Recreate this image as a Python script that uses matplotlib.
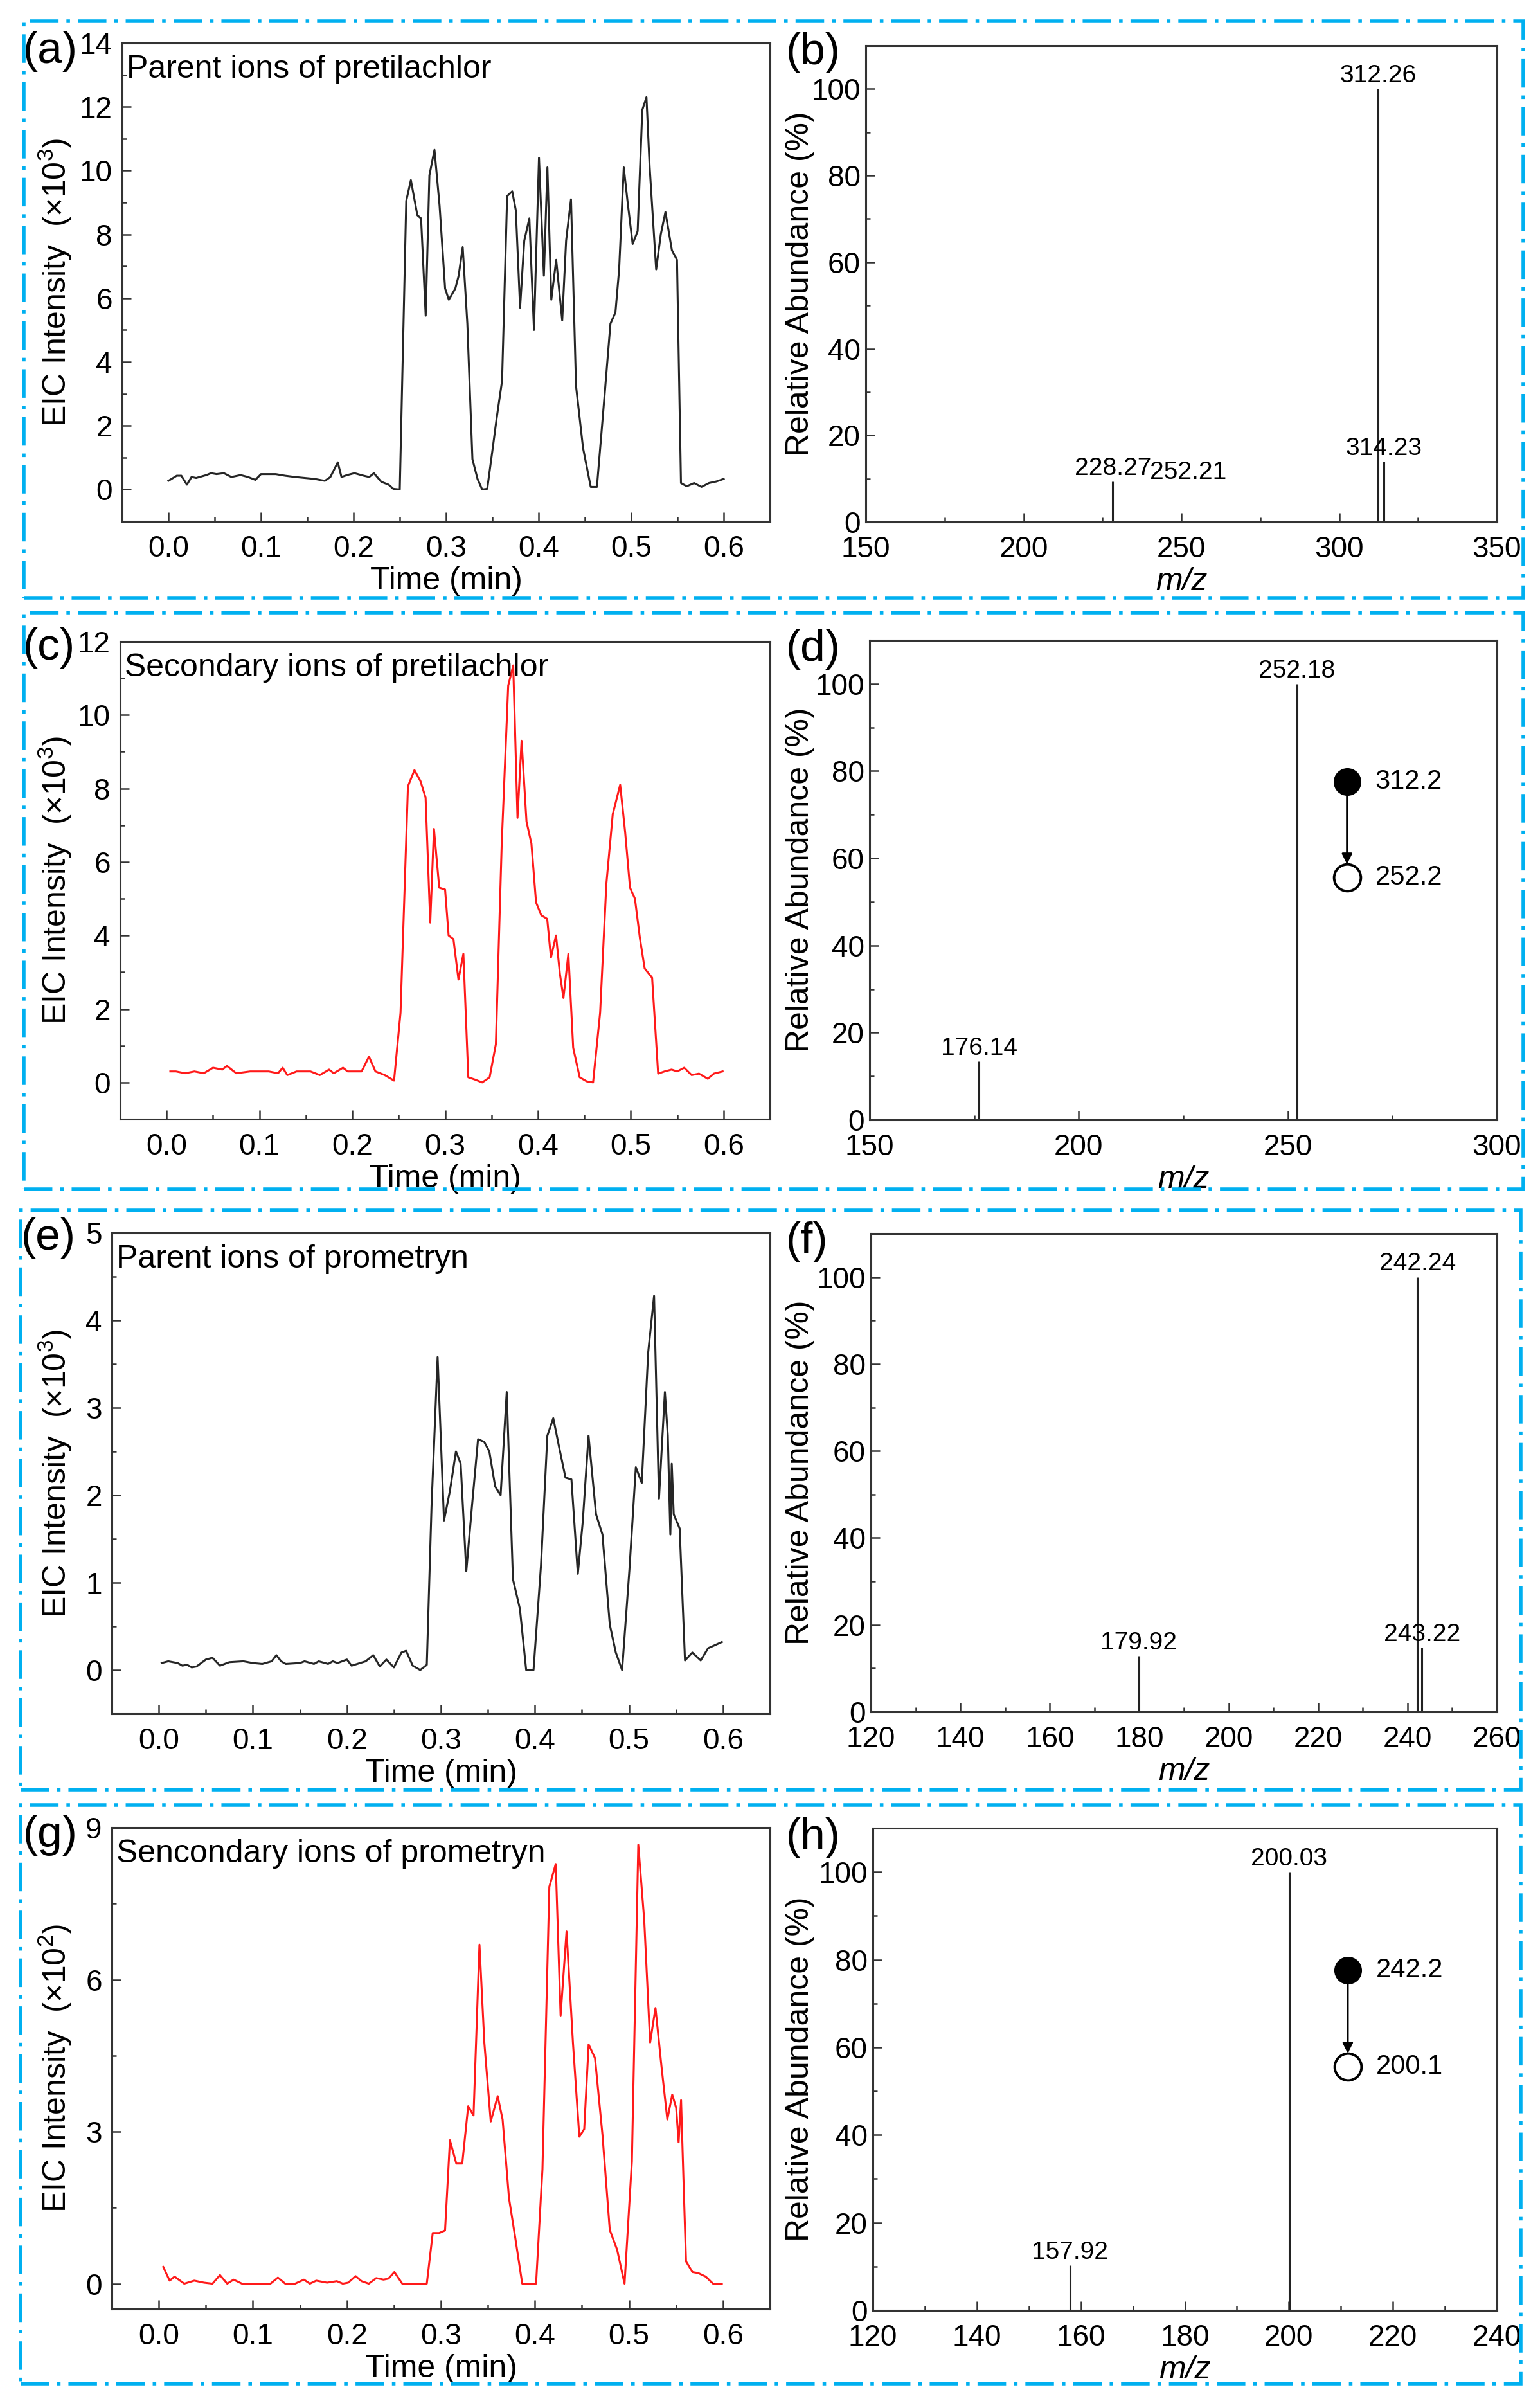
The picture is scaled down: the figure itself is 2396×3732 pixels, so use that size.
import matplotlib
matplotlib.use('Agg')
import matplotlib.pyplot as plt
import numpy as np
from matplotlib.patches import Rectangle
from matplotlib.ticker import FixedLocator

plt.rcParams['font.family'] = ['Liberation Sans', 'DejaVu Sans']
plt.rcParams['mathtext.fontset'] = 'custom'
plt.rcParams['mathtext.rm'] = 'Liberation Sans'
plt.rcParams['mathtext.it'] = 'Liberation Sans:italic'

# ---- chromatogram data (time in min, intensity in scaled units) ----
t_a = [0.0, 0.009, 0.014, 0.02, 0.025, 0.03, 0.041, 0.046, 0.052, 0.06, 0.068, 0.078, 0.086, 0.094, 0.1,
       0.116, 0.126, 0.137, 0.158, 0.169, 0.175, 0.183, 0.187, 0.193, 0.201, 0.211, 0.217, 0.222, 0.23,
       0.238, 0.243, 0.25, 0.257, 0.262, 0.269, 0.273, 0.278, 0.282, 0.2875, 0.293, 0.299, 0.303, 0.31,
       0.3136, 0.318, 0.323, 0.3285, 0.334, 0.339, 0.3445, 0.35, 0.355, 0.3605, 0.366, 0.3715, 0.3754,
       0.38, 0.3845, 0.39, 0.395, 0.4004, 0.4057, 0.4095, 0.4137, 0.419, 0.4255, 0.4297, 0.435, 0.4404,
       0.448, 0.4563, 0.463, 0.4697, 0.4776, 0.483, 0.487, 0.492, 0.4962, 0.5016, 0.507, 0.512, 0.5165,
       0.52, 0.527, 0.532, 0.537, 0.544, 0.5495, 0.5538, 0.56, 0.568, 0.576, 0.584, 0.592, 0.6]
i_a = [0.27, 0.43, 0.43, 0.15, 0.39, 0.36, 0.45, 0.51, 0.48, 0.51, 0.39, 0.45, 0.39, 0.3, 0.48,
       0.48, 0.43, 0.39, 0.33, 0.27, 0.39, 0.85, 0.39, 0.45, 0.51, 0.43, 0.39, 0.51, 0.24,
       0.15, 0.02, 0.0, 9.05, 9.7, 8.6, 8.5, 5.45, 9.85, 10.65, 8.9, 6.3, 5.95, 6.3,
       6.7, 7.6, 5.2, 0.95, 0.33, 0.0, 0.02, 1.2, 2.3, 3.4, 9.2, 9.35, 8.75,
       5.7, 7.8, 8.5, 5.0, 10.4, 6.7, 10.1, 5.95, 7.2, 5.3, 7.8, 9.1, 3.25,
       1.3, 0.08, 0.08, 2.4, 5.2, 5.55, 6.9, 10.1, 9.0, 7.7, 8.1, 11.9, 12.3,
       10.1, 6.9, 8.0, 8.7, 7.5, 7.2, 0.2, 0.1, 0.2, 0.08, 0.2, 0.25, 0.33]

t_c = [0.004, 0.01, 0.02, 0.03, 0.04, 0.05, 0.06, 0.065, 0.075, 0.09, 0.1, 0.11, 0.12, 0.125, 0.13,
       0.14, 0.155, 0.165, 0.175, 0.18, 0.19, 0.195, 0.21, 0.218, 0.225, 0.235, 0.245, 0.252, 0.26,
       0.267, 0.2735, 0.279, 0.284, 0.288, 0.2937, 0.3, 0.3038, 0.309, 0.3144, 0.3197, 0.325, 0.332,
       0.34, 0.348, 0.3547, 0.361, 0.368, 0.3734, 0.378, 0.3824, 0.3877, 0.393, 0.398, 0.4036, 0.41,
       0.414, 0.4195, 0.4237, 0.4275, 0.4328, 0.438, 0.445, 0.4525, 0.4594, 0.467, 0.4737, 0.4806,
       0.4886, 0.494, 0.4992, 0.5045, 0.51, 0.515, 0.523, 0.5295, 0.5364, 0.544, 0.55, 0.5576,
       0.5656, 0.5735, 0.583, 0.5895, 0.599]
i_c = [0.3, 0.3, 0.25, 0.3, 0.25, 0.4, 0.35, 0.45, 0.25, 0.3, 0.3, 0.3, 0.25, 0.4, 0.2,
       0.3, 0.3, 0.2, 0.35, 0.25, 0.4, 0.3, 0.3, 0.7, 0.3, 0.2, 0.05, 1.9, 8.06,
       8.5, 8.2, 7.75, 4.35, 6.9, 5.3, 5.25, 4.0, 3.9, 2.8, 3.5, 0.14, 0.08,
       0.0, 0.14, 1.04, 6.5, 10.8, 11.35, 7.2, 9.3, 7.1, 6.5, 4.9, 4.55, 4.45,
       3.4, 4.0, 2.95, 2.3, 3.5, 0.94, 0.14, 0.03, 0.0, 1.9, 5.4, 7.3,
       8.1, 6.8, 5.3, 5.0, 3.9, 3.1, 2.85, 0.24, 0.3, 0.35, 0.3, 0.4,
       0.2, 0.24, 0.1, 0.24, 0.3]

t_e = [0.003, 0.01, 0.02, 0.025, 0.03, 0.035, 0.04, 0.05, 0.057, 0.065, 0.075, 0.09, 0.1, 0.11,
       0.12, 0.125, 0.13, 0.135, 0.15, 0.155, 0.165, 0.17, 0.18, 0.185, 0.19, 0.2, 0.205, 0.22,
       0.228, 0.235, 0.242, 0.25, 0.258, 0.263, 0.27, 0.278, 0.285, 0.29, 0.2965, 0.3033, 0.3096,
       0.316, 0.321, 0.327, 0.333, 0.3395, 0.346, 0.3515, 0.3577, 0.3635, 0.37, 0.3766, 0.384,
       0.3907, 0.3985, 0.4064, 0.4132, 0.4195, 0.4257, 0.4325, 0.4388, 0.4456, 0.4508, 0.457,
       0.465, 0.4718, 0.4796, 0.486, 0.4927, 0.5005, 0.5073, 0.5136, 0.5204, 0.5267, 0.5319,
       0.5382, 0.5413, 0.544, 0.5455, 0.5476, 0.5539, 0.5596, 0.5674, 0.5763, 0.5842, 0.5988]
i_e = [0.08, 0.1, 0.08, 0.05, 0.06, 0.03, 0.04, 0.12, 0.14, 0.05, 0.09, 0.1, 0.08, 0.07,
       0.1, 0.17, 0.1, 0.07, 0.08, 0.1, 0.07, 0.1, 0.07, 0.1, 0.08, 0.12, 0.05, 0.1,
       0.17, 0.04, 0.12, 0.03, 0.2, 0.22, 0.05, 0.0, 0.06, 1.87, 3.58, 1.71, 2.05,
       2.5, 2.36, 1.13, 1.87, 2.64, 2.61, 2.5, 2.1, 2.0, 3.18, 1.04, 0.7,
       0.0, 0.0, 1.19, 2.68, 2.88, 2.55, 2.2, 2.18, 1.1, 1.69, 2.68,
       1.78, 1.55, 0.52, 0.2, 0.0, 1.15, 2.32, 2.14, 3.63, 4.28, 1.96,
       3.18, 2.68, 1.55, 2.36, 1.78, 1.62, 0.11, 0.2, 0.11, 0.25, 0.32]

t_g = [0.0047, 0.0115, 0.0167, 0.027, 0.0377, 0.048, 0.057, 0.065, 0.0727, 0.0795, 0.0884, 0.0978,
       0.1187, 0.1266, 0.1344, 0.1449, 0.1543, 0.1606, 0.1674, 0.1789, 0.1893, 0.1956, 0.2014, 0.2092,
       0.2155, 0.2233, 0.2312, 0.239, 0.2442, 0.2505, 0.2589, 0.2704, 0.285, 0.2913, 0.2981, 0.3044,
       0.3096, 0.3164, 0.3227, 0.329, 0.3347, 0.341, 0.3462, 0.353, 0.3604, 0.3656, 0.3724, 0.3792,
       0.3865, 0.3949, 0.4012, 0.408, 0.4153, 0.4221, 0.4273, 0.4336, 0.4404, 0.4472, 0.4524, 0.4571,
       0.4639, 0.4718, 0.4796, 0.4874, 0.4953, 0.5031, 0.5099, 0.5162, 0.5225, 0.5282, 0.5345, 0.5408,
       0.546, 0.5502, 0.5528, 0.5554, 0.558, 0.5607, 0.5675, 0.5737, 0.5816, 0.5894, 0.5988]
i_g = [0.33, 0.06, 0.14, 0.0, 0.06, 0.02, 0.0, 0.17, 0.0, 0.08, 0.0, 0.0,
       0.0, 0.12, 0.0, 0.0, 0.08, 0.0, 0.06, 0.02, 0.05, 0.0, 0.02, 0.15,
       0.05, 0.0, 0.11, 0.08, 0.1, 0.23, 0.0, 0.0, 0.0, 1.0, 1.0, 1.05,
       2.83, 2.37, 2.37, 3.5, 3.32, 6.69, 4.75, 3.2, 3.7, 3.24, 1.69, 0.89,
       0.0, 0.0, 0.0, 2.26, 7.83, 8.28, 5.29, 6.95, 4.76, 2.9, 3.05, 4.72,
       4.45, 2.94, 1.06, 0.67, 0.0, 2.41, 8.66, 7.18, 4.76, 5.44, 4.3, 3.24,
       3.73, 3.47, 2.79, 3.62, 2.03, 0.44, 0.23, 0.21, 0.14, 0.0, 0.0]

# ---- mass spectra (m/z, relative abundance %) ----
mz_b = [228.27, 252.21, 312.26, 314.23]
ab_b = [9.4, 0.3, 100, 13.9]
mz_d = [176.14, 252.18]
ab_d = [13.4, 100]
mz_f = [179.92, 242.24, 243.22]
ab_f = [12.8, 100, 14.8]
mz_h = [157.92, 200.03]
ab_h = [10.2, 100]

# MRM transitions (parent -> product)
trans_d = ['312.2', '252.2']
trans_h = ['242.2', '200.1']

W, H = 2396, 3732
fig = plt.figure(figsize=(W / 100, H / 100), dpi=100)
fig.patch.set_facecolor('white')

TICK = 33
LAB = 36
FRAME = '#333333'


def add_ax(l, t, r, b):
    return fig.add_axes([l / W, 1 - b / H, (r - l) / W, (b - t) / H])


def style(ax, ypad):
    for s in ax.spines.values():
        s.set_linewidth(2.2)
        s.set_color(FRAME)
    ax.tick_params(which='both', direction='in', top=False, right=False, width=1.8,
                   color=FRAME, labelsize=TICK)
    ax.tick_params(which='major', length=10)
    ax.tick_params(which='minor', length=5)
    ax.tick_params(axis='x', pad=15)
    ax.tick_params(axis='y', pad=ypad)


def chrom(box, t, y, color, ytop, ystep, ybot, title, ylab):
    l, tp, r, b = box
    ax = add_ax(*box)
    ax.plot(t, y, color=color, lw=2.2)
    ax.set_xlim(-0.05, 0.65)
    ax.set_ylim(ybot, ytop)
    ax.xaxis.set_major_locator(FixedLocator(np.arange(0, 0.61, 0.1)))
    ax.xaxis.set_minor_locator(FixedLocator(np.arange(0.05, 0.6, 0.1)))
    ax.yaxis.set_major_locator(FixedLocator(np.arange(0, ytop + 1e-9, ystep)))
    ax.yaxis.set_minor_locator(FixedLocator(np.arange(ystep / 2, ytop, ystep)))
    ax.set_xticklabels(['%.1f' % v for v in np.arange(0, 0.61, 0.1)])
    ax.set_yticklabels(['%g' % v for v in np.arange(0, ytop + 1e-9, ystep)])
    style(ax, 11)
    hp, wp = b - tp, r - l
    ax.set_xlabel('Time (min)', fontsize=LAB)
    ax.xaxis.set_label_coords(0.5, -70 / hp)
    ax.set_ylabel(ylab, fontsize=LAB)
    ax.yaxis.set_label_coords((115 - l) / wp, 0.5)
    ax.text(7 / wp, 1 - 18 / hp, title, transform=ax.transAxes, ha='left', va='top',
            fontsize=LAB)
    return ax


def spectrum(box, mz, ab, x0, x1, xstep, trans=None):
    l, tp, r, b = box
    ax = add_ax(*box)
    ax.vlines(mz, 0, ab, color='#222222', lw=2.2)
    for m, a in zip(mz, ab):
        ax.text(m, max(a, 8.5) + 1.5, '%.2f' % m, ha='center', va='baseline', fontsize=28)
    ax.set_xlim(x0, x1)
    ax.set_ylim(0, 110)
    ax.xaxis.set_major_locator(FixedLocator(np.arange(x0, x1 + 1e-9, xstep)))
    ax.xaxis.set_minor_locator(FixedLocator(np.arange(x0 + xstep / 2, x1, xstep)))
    ax.yaxis.set_major_locator(FixedLocator(np.arange(0, 101, 20)))
    ax.yaxis.set_minor_locator(FixedLocator(np.arange(10, 100, 20)))
    ax.set_xticklabels(['%d' % v for v in np.arange(x0, x1 + 1e-9, xstep)])
    ax.set_yticklabels(['%d' % v for v in np.arange(0, 101, 20)])
    style(ax, 6)
    hp, wp = b - tp, r - l
    ax.set_xlabel('m/z', fontsize=LAB, style='italic')
    ax.xaxis.set_label_coords(0.5, -70 / hp)
    ax.set_ylabel('Relative Abundance (%)', fontsize=LAB)
    ax.yaxis.set_label_coords((1268 - l) / wp, 0.5)
    if trans is not None:
        cx, ya, yb = 0.761, 0.705, 0.505
        ax.annotate('', xy=(cx, yb), xytext=(cx, ya), xycoords='axes fraction',
                    arrowprops=dict(arrowstyle='-|>', color='k', lw=2.2, shrinkA=0,
                                    shrinkB=15, mutation_scale=24))
        ax.plot([cx], [ya], 'o', ms=30, mfc='k', mec='k', transform=ax.transAxes, zorder=5)
        ax.plot([cx], [yb], 'o', ms=30, mfc='white', mec='k', mew=2.8,
                transform=ax.transAxes, zorder=5)
        ax.text(0.806, ya, trans[0], transform=ax.transAxes, ha='left', va='center', fontsize=30)
        ax.text(0.806, yb, trans[1], transform=ax.transAxes, ha='left', va='center', fontsize=30)
    return ax


red = '#ff1a1a'
dark = '#262626'

chrom((190, 67, 1198, 811), t_a, i_a, dark, 14, 2, -1, 'Parent ions of pretilachlor',
      r'EIC Intensity  (×10$^3$)')
spectrum((1347, 71, 2329, 812), mz_b, ab_b, 150, 350, 50)

chrom((187, 998, 1198, 1741), t_c, i_c, red, 12, 2, -1, 'Secondary ions of pretilachlor',
      r'EIC Intensity  (×10$^3$)')
spectrum((1353, 996, 2329, 1742), mz_d, ab_d, 150, 300, 50, trans_d)

chrom((174, 1918, 1198, 2666), t_e, i_e, dark, 5, 1, -0.5, 'Parent ions of prometryn',
      r'EIC Intensity  (×10$^3$)')
spectrum((1355, 1919, 2329, 2663), mz_f, ab_f, 120, 260, 20)

chrom((174, 2843, 1198, 3592), t_g, i_g, red, 9, 3, -0.5, 'Sencondary ions of prometryn',
      r'EIC Intensity  (×10$^2$)')
spectrum((1358, 2844, 2329, 3594), mz_h, ab_h, 120, 240, 20, trans_h)

# panel letters
letters = [('(a)', 36, 98), ('(b)', 1223, 100), ('(c)', 36, 1026), ('(d)', 1223, 1028),
           ('(e)', 33, 1944), ('(f)', 1223, 1950), ('(g)', 36, 2873), ('(h)', 1223, 2877)]
for s, x, y in letters:
    fig.text(x / W, 1 - y / H, s, fontsize=50, ha='left', va='baseline')

# dash-dot frames around each row
boxes = [(37, 33, 2370, 930), (37, 953, 2370, 1850), (32, 1883, 2366, 2784), (32, 2808, 2366, 3708)]
for l, t, r, b in boxes:
    fig.add_artist(Rectangle((l / W, 1 - b / H), (r - l) / W, (b - t) / H,
                             transform=fig.transFigure, fill=False, edgecolor='#00b0f0',
                             lw=4, linestyle=(0, (8, 2.2, 1, 2.2))))

fig.savefig('out.png', dpi=100)
